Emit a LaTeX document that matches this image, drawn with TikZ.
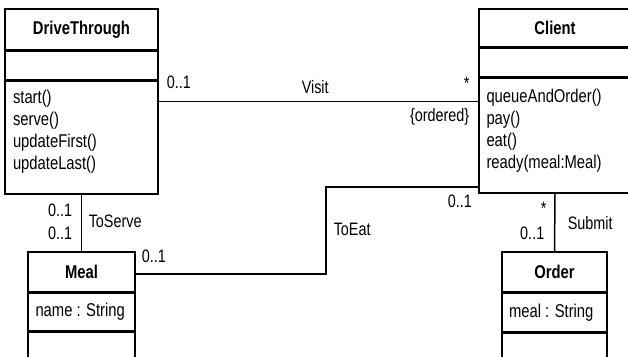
\documentclass[tikz,border=0pt]{standalone}
\usepackage{fontspec}
\setmainfont[FakeStretch=0.8]{Liberation Sans}
\usetikzlibrary{positioning}

\newcommand{\umlfont}{\fontsize{18.5}{22}\selectfont}
\newcommand{\multfont}{\fontsize{18}{20}\selectfont}

\tikzset{
  compart/.style={draw, inner sep=0pt, minimum width=#1},
  head/.style={compart=#1, font=\bfseries\umlfont},
  optext/.style={inner sep=0pt, align=left, font=\umlfont},
  attrtext/.style={inner sep=0pt, anchor=west, font=\umlfont},
  mult/.style={inner sep=0pt, font=\multfont},
}

\begin{document}
\begin{tikzpicture}[x=1pt, y=-1pt, line width=1.5pt]
\fill[white] (0,0) rectangle (628,356);
\clip (0,0) rectangle (628,356);

% DriveThrough
\node[head=153, minimum height=41] (drive) at (81.5,29.5) {DriveThrough};
\node[compart=153, minimum height=28, below=0pt of drive] (drive-attr) {};
\node[compart=153, minimum height=113, below=0pt of drive-attr] (drive-ops) {};
\node[optext, below right=9.5pt and 8pt of drive-ops.north west] (drive-optext) {start()\\serve()\\updateFirst()\\updateLast()};

% Client
\node[head=152, minimum height=38] (client) at (555,28) {Client};
\node[compart=152, minimum height=28, below=0pt of client] (client-attr) {};
\node[compart=152, minimum height=115, below=0pt of client-attr] (client-ops) {};
\node[optext, below right=11.5pt and 7.5pt of client-ops.north west] (client-optext) {queueAndOrder()\\pay()\\eat()\\ready(meal:Meal)};

% Meal
\node[head=107, minimum height=40] (meal) at (81.5,272) {Meal};
\node[compart=107, minimum height=37, below=0pt of meal] (meal-attr) {};
\node[compart=107, minimum height=40, below=0pt of meal-attr] (meal-ops) {};
\node[attrtext, right=7.5pt of meal-attr.west] (meal-attrtext) {name : String};

% Order
\node[head=105, minimum height=40] (order) at (554.5,272) {Order};
\node[compart=105, minimum height=38, below=0pt of order] (order-attr) {};
\node[compart=105, minimum height=40, below=0pt of order-attr] (order-ops) {};
\node[attrtext, right=7pt of order-attr.west] (order-attrtext) {meal : String};

% associations
\draw ([yshift=-21pt]drive-ops.north east) -- ([yshift=-24pt]client-ops.north west);
\draw (drive-ops.south) -- (meal.north);
\draw ([yshift=-2pt]meal.east) -- ++(190,0) |- ([yshift=7pt]client-ops.south west);
\draw (client-ops.south) -- (order.north);

% Visit
\node[mult, anchor=base west] (visit-m1) at (166,88) {0..1};
\node[mult, anchor=base west] (visit-name) at (301,93) {Visit};
\node[mult, anchor=base west] (visit-m2) at (463,89.5) {*};
\node[mult, anchor=base east] (visit-ord) at (470,121.5) {\{ordered\}};
% ToServe
\node[mult, anchor=base east] (serve-m1) at (73,216) {0..1};
\node[mult, anchor=base east] (serve-m2) at (73,239) {0..1};
\node[mult, anchor=base west] (serve-name) at (88,227) {ToServe};
% ToEat
\node[mult, anchor=base west] (eat-m1) at (141,262) {0..1};
\node[mult, anchor=base west] (eat-m2) at (447,207) {0..1};
\node[mult, anchor=base west] (eat-name) at (333,235) {ToEat};
% Submit
\node[mult, anchor=base west] (submit-m1) at (540,214.5) {*};
\node[mult, anchor=base east] (submit-m2) at (545,239) {0..1};
\node[mult, anchor=base west] (submit-name) at (567,229) {Submit};
\end{tikzpicture}
\end{document}
